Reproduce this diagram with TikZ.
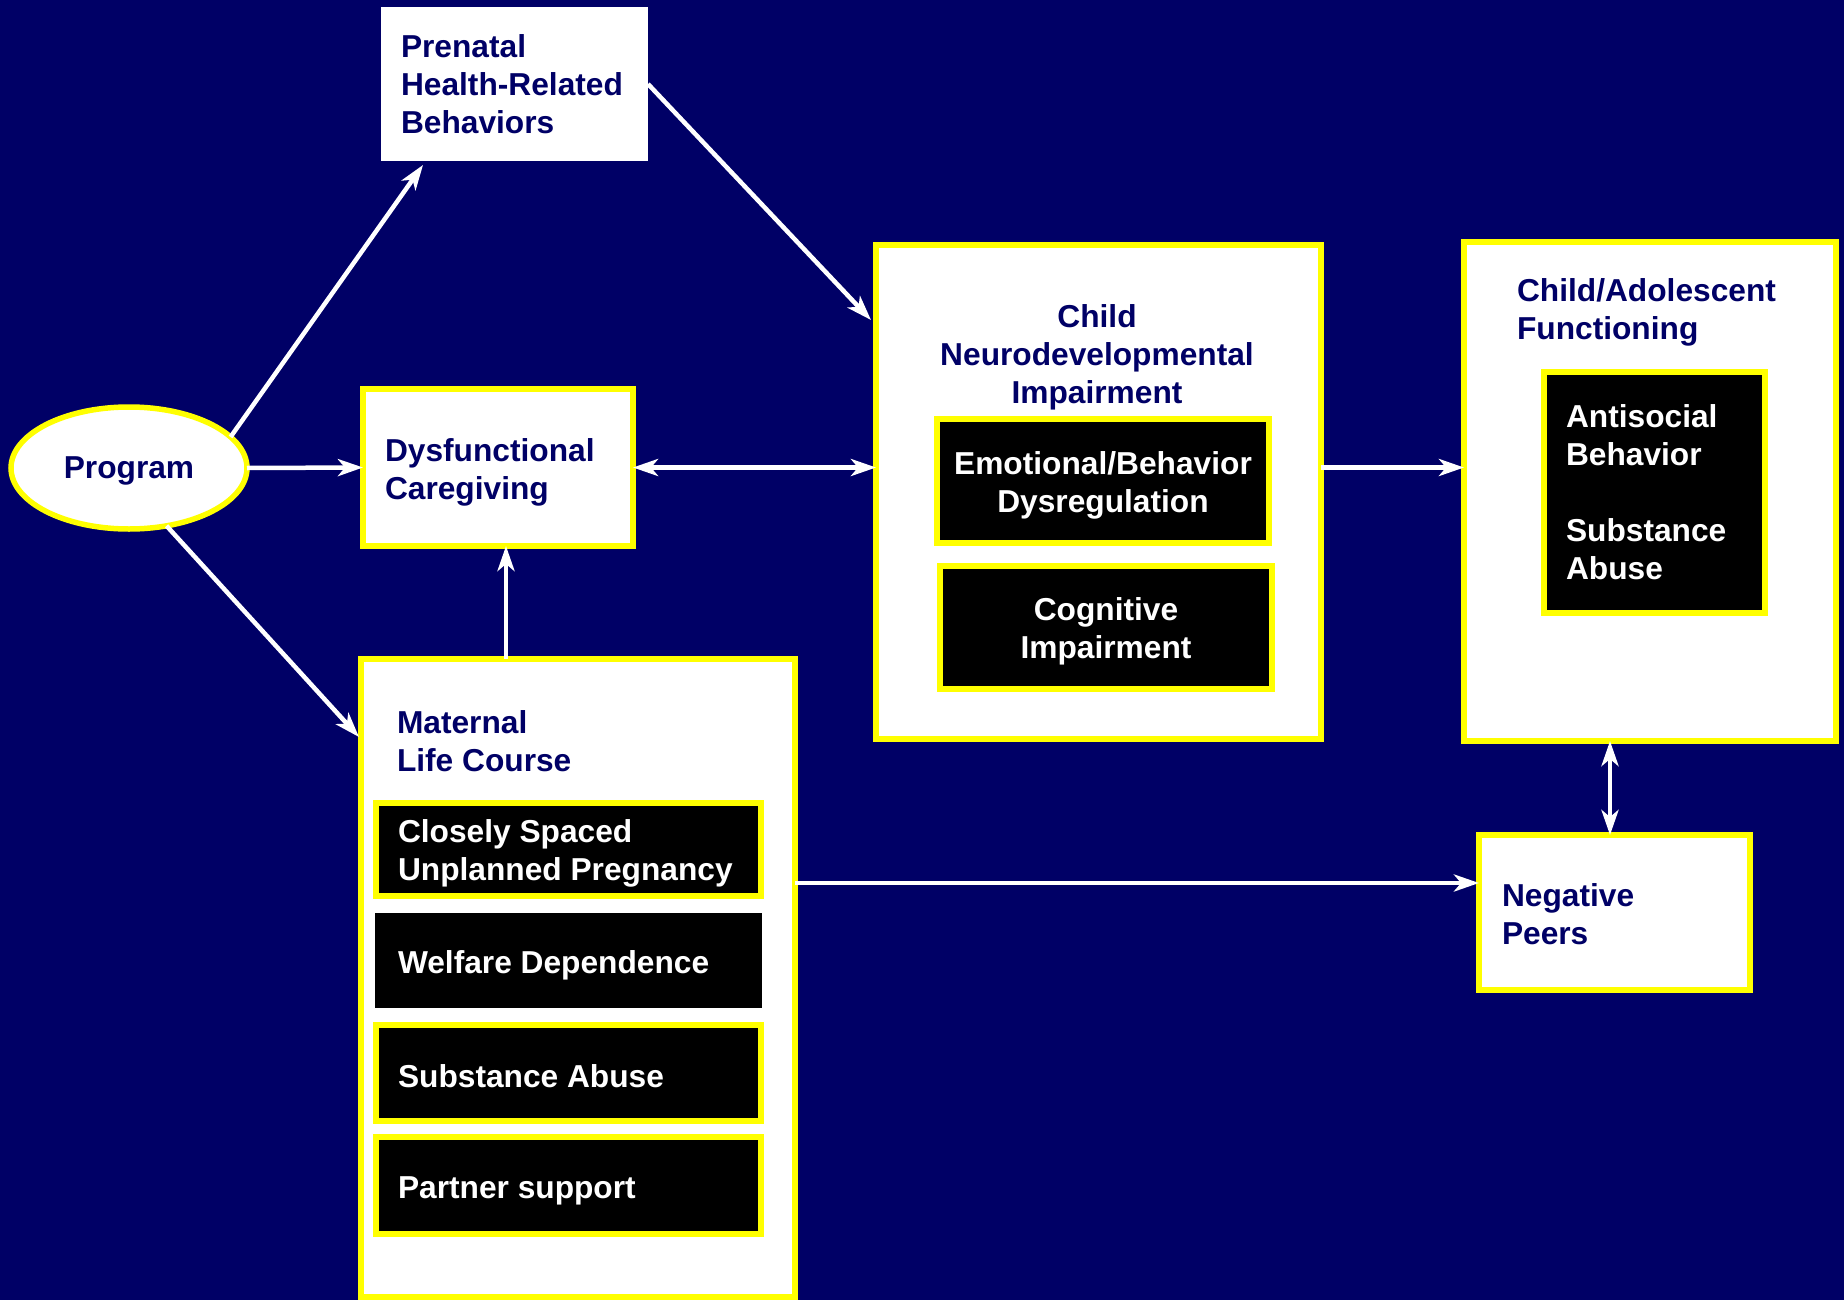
\documentclass[tikz,border=0pt]{standalone}
\usepackage{fontspec}
\setmainfont{Liberation Sans}
\usetikzlibrary{arrows.meta,shapes.geometric,calc}
\definecolor{navy}{RGB}{0,0,102}
\definecolor{yel}{RGB}{255,255,0}
\begin{document}
\begin{tikzpicture}[x=1pt,y=-1pt,
  every node/.style={font=\fontsize{31.7}{38}\selectfont\bfseries, inner sep=0pt, outer sep=0pt},
  wbox/.style={draw=yel, line width=5.5pt, fill=white},
  kbox/.style={draw=yel, line width=5.5pt, fill=black, text=white, align=center},
  ttl/.style={text=navy, align=left, anchor=west},
  wtxt/.style={text=white, align=left, anchor=west},
  tip/.tip={Stealth[length=25pt,width=17pt,inset=7pt]},
  arr/.style={draw=white, line width=4.5pt, -tip},
  darr/.style={draw=white, line width=4.5pt, tip-tip},
]
\path[use as bounding box, fill=navy] (0,0) rectangle (1844,1300);

% Program
\node[ellipse, draw=yel, line width=5.5pt, fill=white, text=navy, text depth=0pt,
      minimum width=236pt, minimum height=122pt] (prog) at (129,468) {Program};

% Prenatal
\node[fill=white, minimum width=267pt, minimum height=154pt] (pren) at (514.5,84) {};
\node[ttl] (prent) at (401,84) {Prenatal\\Health-Related\\Behaviors};

% Dysfunctional caregiving
\node[wbox, minimum width=270pt, minimum height=157pt] (dys) at (498,467.5) {};
\node[ttl] (dyst) at (385,472) {Dysfunctional\\Caregiving};

% Child neurodevelopmental impairment
\node[wbox, minimum width=445pt, minimum height=494pt] (child) at (1098.5,492) {};
\node[text=navy, align=center] (childt) at (1097,357) {Child\\Neurodevelopmental\\Impairment};
\node[kbox, minimum width=332pt, minimum height=124pt] (emo) at (1103,481) {};
\node[text=white, align=center] (emot) at (1103,485.5) {Emotional/Behavior\\Dysregulation};
\node[kbox, minimum width=332pt, minimum height=123pt] (cog) at (1106,627.5) {};
\node[text=white, align=center] (cogt) at (1106,631.5) {Cognitive\\Impairment};

% Child/Adolescent functioning
\node[wbox, minimum width=372pt, minimum height=499pt] (ca) at (1650,491.5) {};
\node[ttl] (cat) at (1517,312) {Child/Adolescent\\Functioning};
\node[draw=yel, line width=5.5pt, fill=black, minimum width=221pt, minimum height=241pt] (anti) at (1654.5,492.5) {};
\node[wtxt] (antit) at (1566,492) {Antisocial\\Behavior\\[38pt]Substance\\Abuse};

% Negative peers
\node[wbox, minimum width=271pt, minimum height=155pt] (neg) at (1614.5,912.5) {};
\node[ttl] (negt) at (1502,914) {Negative\\Peers};

% Maternal life course
\node[wbox, minimum width=434pt, minimum height=638pt] (mat) at (578,978) {};
\node[ttl] (matt) at (397,741) {Maternal\\Life Course};
\node[draw=yel, line width=5.5pt, fill=black, minimum width=385pt, minimum height=93pt] (close) at (568.5,849.5) {};
\node[wtxt] (closet) at (398,853) {Closely Spaced\\Unplanned Pregnancy};
\node[fill=black, minimum width=387pt, minimum height=95pt] (welf) at (568.5,960.5) {};
\node[wtxt] (welft) at (398,965) {Welfare Dependence};
\node[draw=yel, line width=5.5pt, fill=black, minimum width=385pt, minimum height=96pt] (subs) at (568.5,1073) {};
\node[wtxt] (subst) at (398,1076) {Substance Abuse};
\node[draw=yel, line width=5.5pt, fill=black, minimum width=385pt, minimum height=97pt] (part) at (568.5,1185.5) {};
\node[wtxt] (partt) at (398,1191) {Partner support};

% Connectors
\draw[arr] (prog.17) -- ($(pren.south west)+(42,4)$);
\draw[arr] (pren.east) -- ($(child.north west)+(-5,75)$);
\draw[arr] (prog.east) -- (dys.west);
\draw[darr] (dys.east) -- (dys.east -| child.west);
\draw[arr] (prog.-57) -- ($(mat.north west)+(-2,78)$);
\draw[arr] ($(mat.north west)+(145,0)$) -- ($(dys.south west)+(143,0)$);
\draw[arr] (child.east |- dys.east) -- (ca.west |- dys.east);
\coordinate (mpt) at ($(mat.north east)+(0,224)$);
\draw[arr] (mpt) -- (mpt -| neg.west);
\draw[darr] ($(ca.south west)+(146,0)$) -- ($(neg.north west)+(131,0)$);
\end{tikzpicture}
\end{document}
